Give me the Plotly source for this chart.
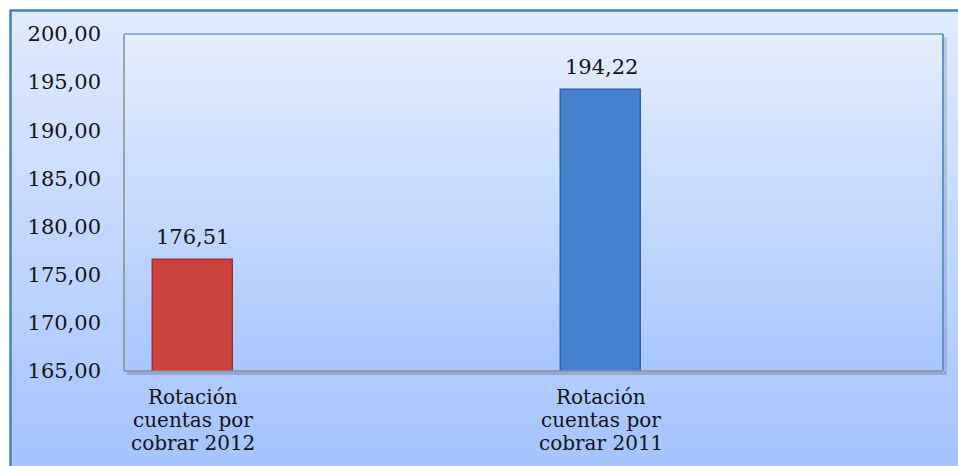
import plotly.graph_objects as go

# Data
categories = ["Rotación cuentas por cobrar 2012", "Rotación cuentas por cobrar 2011"]
label_lines = [["Rotación", "cuentas por", "cobrar 2012"], ["Rotación", "cuentas por", "cobrar 2011"]]
values = [176.51, 194.22]
bar_colors = ["#CC423D", "#4482CF"]
bar_edges = ["#9E302C", "#2F63A6"]
y_ticks = [165, 170, 175, 180, 185, 190, 195, 200]

W, H = 958, 466
L, T, R, B = 124, 34, 943, 371  # plot area in pixels
pw, ph = R - L, B - T


def px_x(x):
    return (x - L) / pw


def px_y(y):
    return (B - y) / ph


def lerp(c1, c2, t):
    return "rgb(%d,%d,%d)" % tuple(round(a + (b - a) * t) for a, b in zip(c1, c2))


shapes = []

# chart-area gradient
n = 60
y0, y1 = 10, 470
top_c, bot_c = (224, 234, 254), (164, 196, 254)
for i in range(n):
    ya = y0 + (y1 - y0) * i / n
    yb = y0 + (y1 - y0) * (i + 1) / n + 0.6
    shapes.append(dict(type="rect", xref="paper", yref="paper", layer="below",
                       x0=px_x(10), x1=px_x(W + 5), y0=px_y(ya), y1=px_y(yb),
                       fillcolor=lerp(top_c, bot_c, i / (n - 1)), line_width=0))

# plot-area gradient
n2 = 60
ptop, pbot = (229, 238, 254), (168, 199, 253)
for i in range(n2):
    ya = T + ph * i / n2
    yb = T + ph * (i + 1) / n2 + 0.6
    shapes.append(dict(type="rect", xref="paper", yref="paper", layer="below",
                       x0=0, x1=1, y0=px_y(ya), y1=max(px_y(yb), 0),
                       fillcolor=lerp(ptop, pbot, i / (n2 - 1)), line_width=0))

# outer frame (left and top edges)
frame_c = "#4A7EC4"
shapes.append(dict(type="line", xref="paper", yref="paper", layer="above",
                   x0=px_x(10.5), x1=px_x(10.5), y0=px_y(10), y1=px_y(H + 5),
                   line=dict(color=frame_c, width=2.5)))
shapes.append(dict(type="line", xref="paper", yref="paper", layer="above",
                   x0=px_x(10), x1=px_x(W + 5), y0=px_y(10.5), y1=px_y(10.5),
                   line=dict(color=frame_c, width=2.5)))

# plot-area border with soft shadow
shapes.append(dict(type="line", xref="paper", yref="paper", layer="above",
                   x0=px_x(L + 3), x1=px_x(R + 3), y0=px_y(B + 2.5), y1=px_y(B + 2.5),
                   line=dict(color="rgba(90,110,150,0.35)", width=3)))
shapes.append(dict(type="line", xref="paper", yref="paper", layer="above",
                   x0=px_x(R + 2.5), x1=px_x(R + 2.5), y0=px_y(T + 3), y1=px_y(B + 3),
                   line=dict(color="rgba(90,110,150,0.25)", width=3)))
shapes.append(dict(type="line", xref="paper", yref="paper", layer="above",
                   x0=0, x1=1, y0=1, y1=1, line=dict(color="#8EAEDC", width=2)))
shapes.append(dict(type="line", xref="paper", yref="paper", layer="above",
                   x0=1, x1=1, y0=0, y1=1, line=dict(color="#6592CF", width=2)))
shapes.append(dict(type="line", xref="paper", yref="paper", layer="above",
                   x0=0, x1=0, y0=0, y1=1, line=dict(color="#8C8C8C", width=1.5)))
shapes.append(dict(type="line", xref="paper", yref="paper", layer="above",
                   x0=0, x1=1, y0=0, y1=0, line=dict(color="#8C8C8C", width=1.5)))

font_family = "DejaVu Serif"
text_color = "#141414"

fig = go.Figure(go.Bar(
    x=categories,
    y=values,
    width=0.194,
    marker=dict(color=bar_colors, line=dict(color=bar_edges, width=1.5)),
    hoverinfo="x+y",
))

annotations = []
# value labels above the bars
for c, v in zip(categories, values):
    annotations.append(dict(x=c, y=v, xref="x", yref="y", text=f"{v:.2f}".replace(".", ","),
                            showarrow=False, yanchor="bottom", yshift=9,
                            font=dict(family=font_family, size=21, color=text_color)))
# category labels, one line each
for c, lines in zip(categories, label_lines):
    for k, line in enumerate(lines):
        annotations.append(dict(x=c, y=0, xref="x", yref="paper", text=line,
                                showarrow=False, yanchor="middle", yshift=-26 - 23 * k,
                                font=dict(family=font_family, size=20, color=text_color)))

fig.update_layout(
    width=W, height=H,
    margin=dict(l=L, r=W - R, t=T, b=H - B, pad=0),
    paper_bgcolor="white",
    plot_bgcolor="rgba(0,0,0,0)",
    separators=",.",
    showlegend=False,
    bargap=0,
    shapes=shapes,
    annotations=annotations,
    font=dict(family=font_family, size=21, color=text_color),
    xaxis=dict(type="category", range=[-0.169, 1.838], showticklabels=False,
               showgrid=False, zeroline=False, showline=False, fixedrange=True),
    yaxis=dict(range=[165, 200], tickvals=y_ticks, tickformat=".2f",
               showgrid=False, zeroline=False, showline=False, ticks="",
               ticklabelstandoff=22, fixedrange=True,
               tickfont=dict(family=font_family, size=21, color=text_color)),
)

fig.write_html("out.html")
